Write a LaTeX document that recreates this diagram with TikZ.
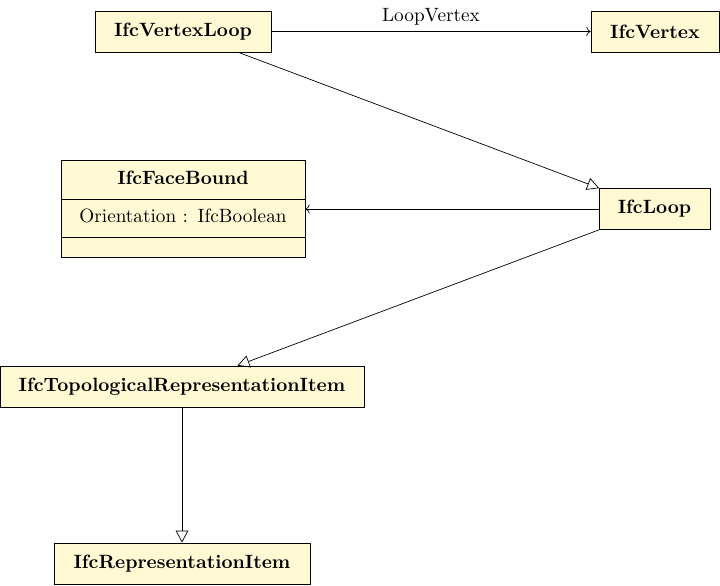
\documentclass[tikz,border=0pt,11pt]{standalone}
\usepackage{tikz}
\usetikzlibrary{positioning, arrows.meta, shapes.multipart}

\definecolor{umlfill}{RGB}{255,249,212}
\newcommand{\rowstrut}{\rule[-3.0pt]{0pt}{10.2pt}}

\begin{document}
\begin{tikzpicture}[
  x=0.02cm, y=-0.02cm,
  cls/.style={draw, fill=umlfill, minimum height=0.82cm, inner sep=0pt, font=\bfseries},
  attcls/.style={draw, fill=umlfill, rectangle split, rectangle split parts=3, align=center, inner xsep=0pt, inner ysep=5.4pt, text width=4.88cm},
  assoc/.style={-{To}},
  inherit/.style={-{Triangle[open, length=2.4mm, width=2.5mm]}}
]
  \useasboundingbox (0,0) rectangle (720,585);

  % classes
  \node[cls, minimum width=3.52cm] (vloop) at (183, 31.5) {IfcVertexLoop};
  \node[cls, minimum width=2.56cm] (vertex) at (655, 31.5) {IfcVertex};
  \node[cls, minimum width=2.22cm] (loop) at (654.5, 209) {IfcLoop};
  \node[attcls] (fbound) at (183, 209)
    {\rowstrut\textbf{IfcFaceBound}\nodepart{two}\rowstrut Orientation : IfcBoolean\nodepart{three}};
  \node[cls, minimum width=7.28cm] (topo) at (182, 386.5) {IfcTopologicalRepresentationItem};
  \node[cls, minimum width=5.12cm] (repr) at (182, 563.5) {IfcRepresentationItem};

  % associations
  \draw[assoc] (vloop) -- node[above] {LoopVertex} (vertex);
  \draw[assoc] (loop) -- (fbound);

  % generalizations
  \draw[inherit] (vloop) -- (loop);
  \draw[inherit] (loop) -- (topo);
  \draw[inherit] (topo) -- (repr);
\end{tikzpicture}
\end{document}
